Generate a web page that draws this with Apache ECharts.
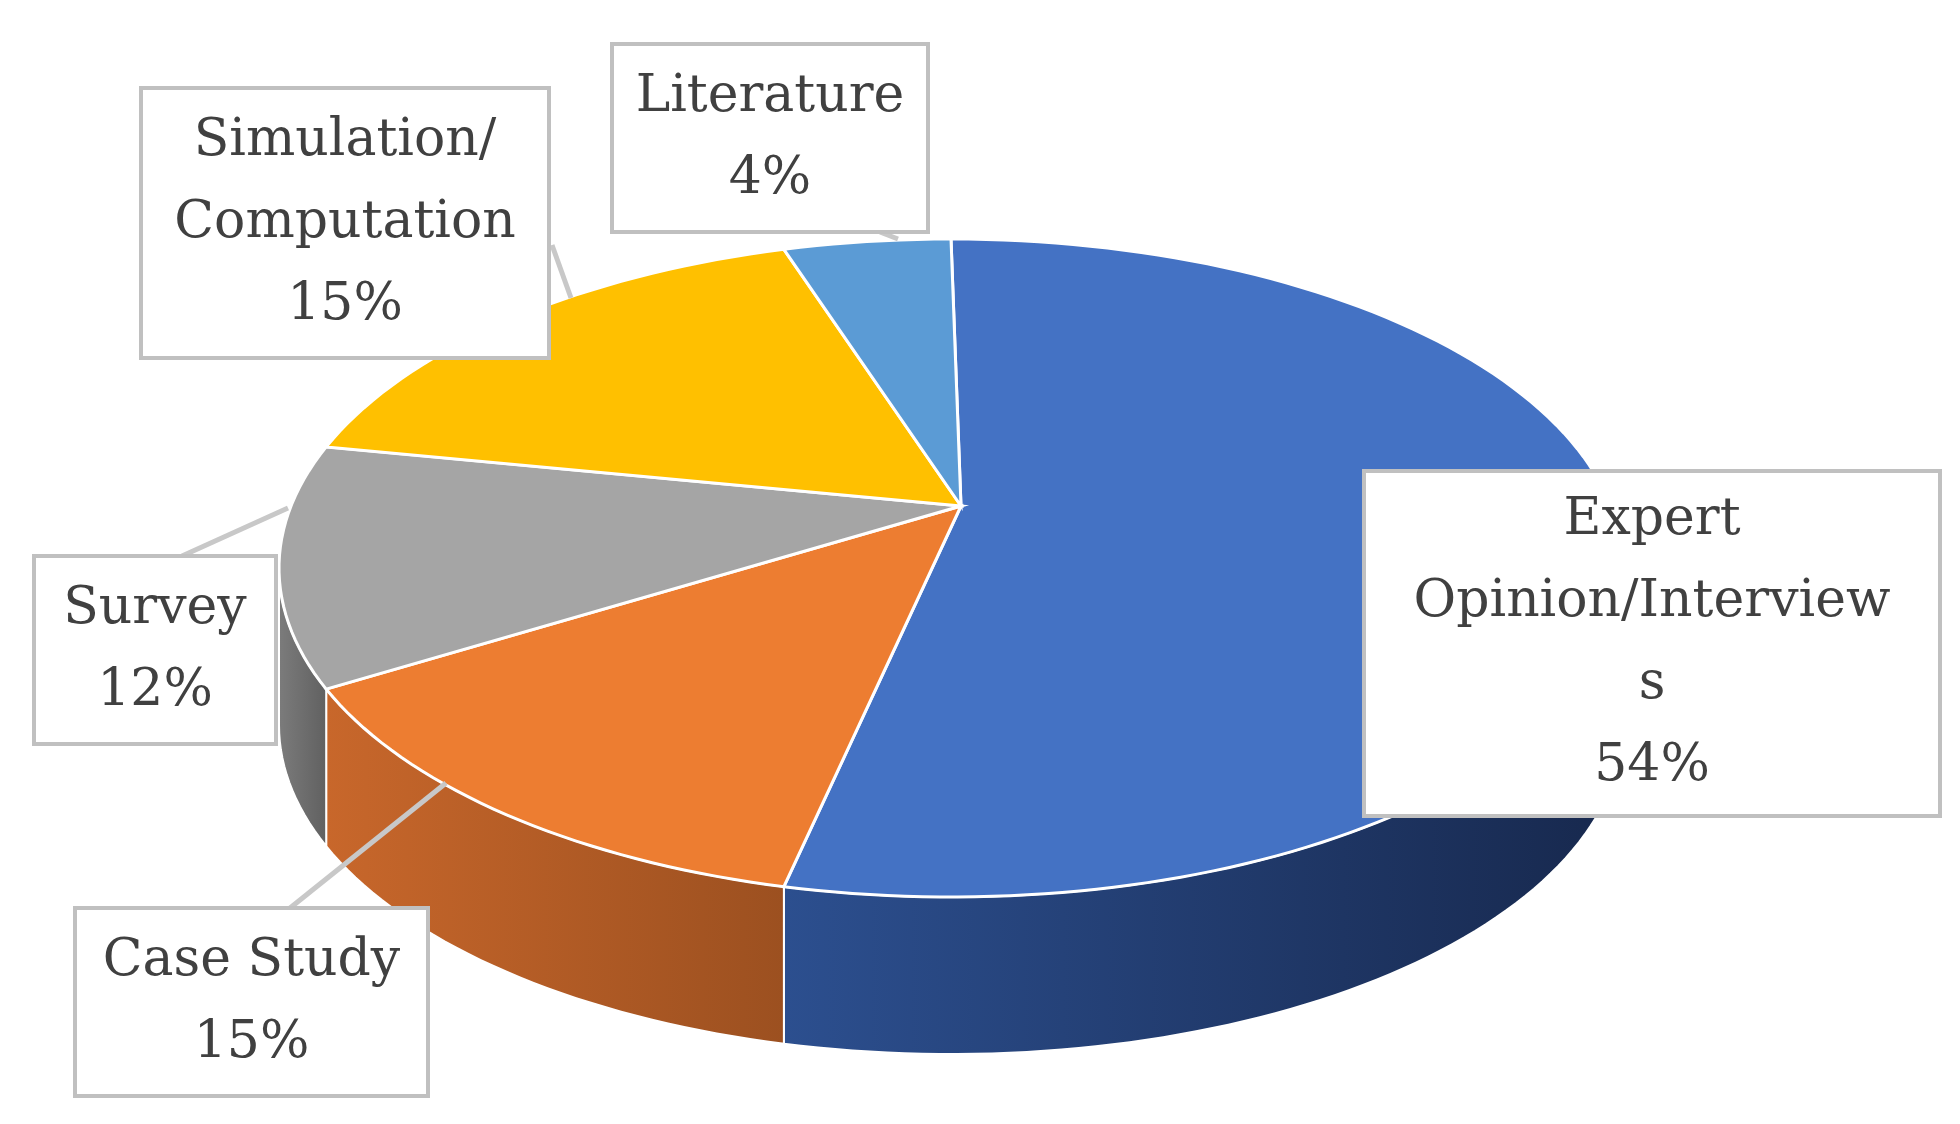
<!DOCTYPE html>
<html>
<head>
<meta charset="utf-8">
<script src="https://cdn.jsdelivr.net/npm/echarts@6/dist/echarts.min.js"></script>
<style>html,body{margin:0;background:#fff}#main{width:1960px;height:1124px}</style>
</head>
<body>
<div id="main"></div>
<script>
var categories = ['Expert\nOpinion/Interview\ns', 'Case Study', 'Survey', 'Simulation/\nComputation', 'Literature'];
var values = [54, 15, 12, 15, 4];
var topColors = ['#4472c4', '#ed7d31', '#a5a5a5', '#ffc000', '#5b9bd5'];
var sideColors = [['#2c4f8f', '#17284d'], ['#c8672b', '#9c5020'], ['#7c7c7c', '#606060'], ['#c09000', '#a07800'], ['#4478a8', '#3a6590']];

// layout
var cx = 951, cy = 568, rx = 672, ry = 329, depth = 157;
var apexX = 961, apexY = 506;
var boxes = [[1364, 471, 576, 345], [75, 908, 353, 188], [34, 556, 242, 188], [141, 88, 408, 270], [612, 44, 316, 188]];
var leaders = [[], [[290, 908], [446, 783]], [[182, 556], [288, 508]], [[552, 245], [571, 298]], [[880, 232], [898, 239]]];

var total = values.reduce(function (a, b) { return a + b; }, 0);
var data = [];
var acc = 0;
values.forEach(function (v, i) {
  data.push([acc / total, (acc + v) / total, i]);
  acc += v;
});

function pt(t, dy) {
  var r = t * Math.PI / 180;
  return [cx + rx * Math.cos(r), cy + ry * Math.sin(r) + (dy || 0)];
}
function arc(a, b, dy) {
  var pts = [];
  var n = Math.max(2, Math.ceil((b - a) / 1.5));
  for (var k = 0; k <= n; k++) pts.push(pt(a + (b - a) * k / n, dy));
  return pts;
}

var myChart = echarts.init(document.getElementById('main'));

var graphics = [];
boxes.forEach(function (b, i) {
  leaders[i].length && graphics.push({
    type: 'polyline', z: 10,
    shape: { points: leaders[i] },
    style: { stroke: '#c8c8c8', lineWidth: 5, fill: null }
  });
  graphics.push({
    type: 'rect', z: 11,
    shape: { x: b[0], y: b[1], width: b[2], height: b[3] },
    style: { fill: '#fff', stroke: '#c0c0c0', lineWidth: 4 }
  });
  graphics.push({
    type: 'text', z: 12,
    x: b[0] + b[2] / 2, y: b[1] + b[3] / 2,
    style: {
      text: categories[i] + '\n' + values[i] + '%',
      fill: '#404040', font: '52px "DejaVu Serif", serif',
      align: 'center', verticalAlign: 'middle', lineHeight: 82
    }
  });
});

var option = {
  animation: false,
  graphic: graphics,
  series: [{
    type: 'custom', coordinateSystem: 'none', z: 1, data: data,
    renderItem: function (params, api) {
      var a = -90 + api.value(0) * 360, b = -90 + api.value(1) * 360;
      var i = api.value(2);
      var s = Math.max(a, 0), e = Math.min(b, 180);
      if (e <= s) return null;
      var top = arc(s, e, 0), bot = arc(s, e, depth).reverse();
      return {
        type: 'polygon',
        shape: { points: top.concat(bot) },
        style: {
          fill: new echarts.graphic.LinearGradient(0, 0, 1, 0, [
            { offset: 0, color: sideColors[i][0] }, { offset: 1, color: sideColors[i][1] }]),
          stroke: '#fff', lineWidth: 2
        }
      };
    }
  }, {
    type: 'custom', coordinateSystem: 'none', z: 2, data: data,
    renderItem: function (params, api) {
      var a = -90 + api.value(0) * 360, b = -90 + api.value(1) * 360;
      var i = api.value(2);
      return {
        type: 'polygon',
        shape: { points: [[apexX, apexY]].concat(arc(a, b, 0)) },
        style: { fill: topColors[i], stroke: '#fff', lineWidth: 3 }
      };
    }
  }]
};
myChart.setOption(option);
</script>
</body>
</html>
